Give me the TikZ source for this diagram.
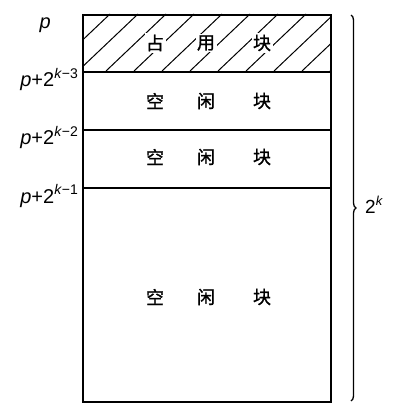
\documentclass[tikz,border=0pt]{standalone}
\usepackage{fontspec}
\setmainfont{Liberation Sans}
\newfontfamily\cjk[FakeBold=1.2]{Noto Sans CJK SC}
\usetikzlibrary{decorations.pathreplacing}
\newcommand{\supk}[1]{\raisebox{0.42em}{\fontsize{14}{14}\selectfont\textit{k}#1}}
\tikzset{
  blockbox/.style={draw, line width=1.6pt, minimum width=248pt, anchor=north west, inner sep=0pt},
  hanzi/.style={font=\cjk\fontsize{18}{18}\selectfont, inner sep=1.5pt},
  hanziw/.style={hanzi, fill=white},
  addr/.style={font=\fontsize{20}{20}\selectfont, anchor=base east, inner sep=0pt},
  hatch/.style={line width=1pt}
}
\begin{document}
\begin{tikzpicture}[x=1pt,y=-1pt]
\useasboundingbox (0,0) rectangle (405,414);
% hatching of the occupied block
\begin{scope}
  \clip (82,14) rectangle (330,71);
  \foreach \s in {0,28,...,336} {
    \draw[hatch] (82-60+\s,71) -- (82+\s,14);
  }
\end{scope}
% blocks
\node[blockbox, minimum height=57pt] (b1) at (82,14) {};
\node[blockbox, minimum height=58pt] (b2) at (82,71) {};
\node[blockbox, minimum height=58pt] (b3) at (82,129) {};
\node[blockbox, minimum height=214pt] (b4) at (82,187) {};
% texts
\node[hanziw] (t1a) at (155,43) {占};
\node[hanziw] (t1b) at (206,43) {用};
\node[hanziw] (t1c) at (262,43) {块};
\node[hanzi] (t2a) at (155,101) {空};
\node[hanzi] (t2b) at (206,101) {闲};
\node[hanzi] (t2c) at (262,101) {块};
\node[hanzi] (t3a) at (155,157) {空};
\node[hanzi] (t3b) at (206,157) {闲};
\node[hanzi] (t3c) at (262,157) {块};
\node[hanzi] (t4a) at (155,297) {空};
\node[hanzi] (t4b) at (206,297) {闲};
\node[hanzi] (t4c) at (262,297) {块};
% addresses
\node[addr] (a0) at (51,29) {\textit{p}};
\node[addr] (a1) at (78,87) {\textit{p}+2\supk{−3}};
\node[addr] (a2) at (78,145) {\textit{p}+2\supk{−2}};
\node[addr] (a3) at (78,203) {\textit{p}+2\supk{−1}};
% brace
\coordinate (bt) at (351,15);
\coordinate (bb) at (351,401);
\draw[line width=1.3pt, decorate, decoration={brace, amplitude=5pt}] (bt) -- (bb);
\node[font=\fontsize{19}{19}\selectfont, anchor=base west, inner sep=0pt] (len) at (365,213) {2\raisebox{0.42em}{\fontsize{13}{13}\selectfont\textit{k}}};
\end{tikzpicture}
\end{document}
